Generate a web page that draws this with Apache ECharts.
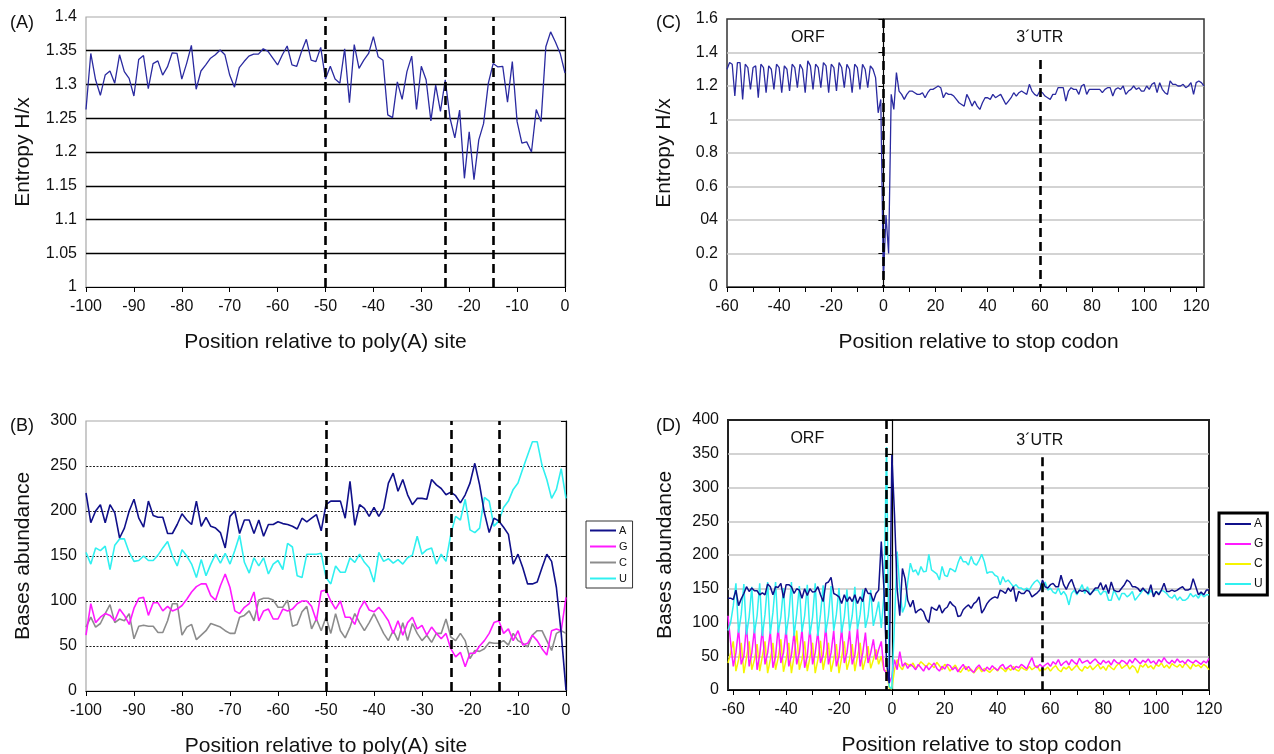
<!DOCTYPE html>
<html><head><meta charset="utf-8">
<script src="https://cdn.jsdelivr.net/npm/echarts@6/dist/echarts.min.js"></script>
<style>html,body{margin:0;padding:0;background:#fff}#c{width:1274px;height:754px}</style>
</head><body><div id="c"></div>
<script>
// ---------- DATA ----------
// Panel A: entropy, positions -100..0
const startA = -100;
const entropyA = [1.263,1.346,1.307,1.284,1.314,1.320,1.302,1.344,1.319,1.309,
1.283,1.337,1.343,1.294,1.331,1.335,1.314,1.326,1.347,1.346,
1.308,1.331,1.358,1.293,1.320,1.329,1.339,1.344,1.351,1.344,
1.314,1.296,1.325,1.334,1.342,1.345,1.345,1.353,1.349,1.339,
1.329,1.344,1.357,1.329,1.327,1.349,1.367,1.336,1.334,1.355,
1.308,
1.327,1.308,1.302,1.353,1.273,1.359,1.324,1.336,1.346,1.371,
1.341,1.336,1.255,1.251,1.304,1.278,1.319,1.342,1.263,1.327,
1.307,1.246,1.299,1.260,1.307,1.250,1.221,1.262,1.161,1.230,
1.159,1.218,1.242,1.302,1.331,1.326,1.327,1.274,1.334,1.245,
1.213,1.215,1.200,1.263,1.245,1.356,1.378,1.363,1.346,1.317];

// Panel B: base abundance, positions -100..0
const startB = -100;
const baseA_B = [220,187,200,207,187,207,198,170,181,200,
213,192,182,211,195,193,193,175,175,185,
197,190,185,211,183,193,183,181,176,159,
194,200,175,190,190,175,190,172,185,185,
188,186,185,183,180,192,188,192,196,178,
207,
211,211,211,192,233,184,207,203,194,204,
194,203,231,242,222,235,218,207,214,214,
213,235,229,225,218,221,217,209,218,231,
253,229,198,176,192,189,182,174,141,152,
137,119,119,121,137,152,144,115,64,1];
const baseU_B = [154,141,159,156,161,135,162,169,169,154,
144,145,150,145,145,151,159,166,150,139,
157,150,141,126,146,128,141,152,142,153,
141,156,173,143,131,148,139,148,130,141,
145,135,164,160,128,126,152,152,152,153,
126,
119,139,132,132,148,143,152,143,137,121,
154,144,147,142,146,141,148,151,172,152,
157,159,141,152,144,174,194,190,213,179,
176,181,215,211,183,189,204,211,224,231,
247,262,277,277,251,235,214,224,247,214];
const baseG_B = [62,97,76,82,86,84,78,91,84,74,
92,103,104,84,98,98,89,94,89,91,
95,102,110,116,119,119,106,101,117,130,
115,89,86,93,97,110,78,89,91,80,
80,91,89,91,97,100,100,94,78,111,
112,
100,91,100,82,82,74,91,100,90,88,
93,86,78,64,78,62,76,82,69,73,
62,71,64,58,64,47,38,43,27,42,
42,50,56,64,76,78,64,69,56,67,
51,53,62,56,47,40,67,69,67,104];
const baseC_B = [71,82,71,75,86,96,76,80,78,86,
58,72,73,72,72,65,65,78,97,97,
62,71,74,57,62,67,75,73,71,67,
64,64,82,84,89,78,101,103,103,101,
93,93,101,72,74,88,94,69,80,67,
82,
64,86,67,59,71,86,76,67,76,86,
75,64,56,67,56,76,56,75,64,56,
62,54,64,64,80,60,56,64,56,36,
45,44,47,54,53,53,56,51,64,56,
53,49,62,67,67,56,45,64,67,64];

// Panel C: entropy, positions -60..123
const startC = -60;
const entropyC = [1.30,1.34,1.33,1.14,1.34,1.34,1.12,1.33,1.31,1.18,
1.31,1.32,1.13,1.33,1.31,1.16,1.32,1.30,1.18,1.33,
1.31,1.16,1.32,1.30,1.17,1.33,1.31,1.19,1.33,1.30,
1.16,1.35,1.32,1.18,1.33,1.31,1.19,1.34,1.32,1.16,
1.33,1.31,1.17,1.34,1.31,1.19,1.33,1.30,1.16,1.33,
1.31,1.18,1.33,1.30,1.19,1.32,1.30,1.25,1.04,1.12,
0.05,0.43,0.20,1.15,1.06,1.28,1.17,1.15,1.12,1.15,
1.17,1.17,1.16,1.15,1.15,1.16,1.13,1.16,1.18,1.18,
1.19,1.20,1.19,1.13,1.16,1.15,1.15,1.14,1.12,1.10,
1.09,1.08,1.15,1.12,1.08,1.11,1.08,1.06,1.10,1.13,
1.13,1.12,1.15,1.13,1.14,1.15,1.12,1.09,1.11,1.13,
1.16,1.14,1.16,1.17,1.16,1.15,1.21,1.17,1.15,1.14,
1.17,1.16,1.14,1.13,1.12,1.15,1.15,1.19,1.19,1.19,
1.11,1.17,1.19,1.18,1.18,1.15,1.20,1.21,1.15,1.18,
1.18,1.18,1.18,1.18,1.16,1.18,1.19,1.19,1.14,1.18,
1.19,1.18,1.20,1.15,1.17,1.18,1.20,1.18,1.19,1.17,
1.17,1.20,1.18,1.21,1.22,1.16,1.22,1.18,1.16,1.15,
1.23,1.21,1.21,1.20,1.20,1.21,1.19,1.20,1.22,1.15,
1.22,1.23,1.22,1.20];

// Panel D: base abundance, positions -62..120
const startD = -62;
const baseA_D = [136,136,134,148,125,135,143,153,146,151,
147,147,141,144,141,157,153,141,153,152,
158,136,156,156,153,143,150,148,136,150,
140,150,145,146,153,141,131,158,160,167,
143,141,138,128,141,131,138,131,141,128,
138,131,151,143,143,131,143,148,220,150,
40,10,348,260,150,110,180,165,133,123,
133,114,118,120,116,105,100,123,120,118,
126,114,120,123,131,126,123,109,110,119,
123,126,121,128,131,138,114,120,128,133,
136,138,136,148,146,143,151,146,153,131,
146,143,143,148,146,138,141,144,148,163,
153,151,156,158,153,153,170,156,149,158,
164,153,143,148,146,148,146,141,146,151,
151,159,148,156,143,160,148,146,146,151,
156,163,160,153,153,151,146,151,146,143,
156,138,146,141,148,158,146,146,148,146,
148,151,153,148,148,150,165,153,141,145,
141,148,148];
const baseU_D = [88,100,125,158,85,112,157,82,108,153,
84,110,158,80,112,160,83,115,160,85,
108,151,82,110,160,80,113,154,86,110,
156,82,108,158,80,112,155,85,110,154,
88,112,151,85,108,149,88,110,153,90,
112,149,92,110,148,95,112,131,92,140,
360,5,2,100,205,150,115,125,160,188,
175,178,170,183,175,176,201,178,175,172,
163,183,170,168,180,178,175,188,198,190,
190,185,198,188,185,192,201,190,173,175,
175,170,168,156,168,160,163,158,153,156,
151,151,148,151,148,155,160,163,158,146,
160,148,151,145,143,151,141,146,140,126,
143,148,141,148,156,143,153,141,146,148,
148,141,146,146,133,133,148,141,133,143,
143,138,141,146,133,138,143,148,148,141,
148,141,146,143,148,146,143,138,136,141,
133,138,133,133,136,143,138,141,136,143,
138,141,141];
const baseG_D = [110,70,35,55,91,38,50,97,35,55,
91,30,52,91,38,55,87,33,50,94,
40,55,91,35,52,85,38,55,90,33,
50,93,38,55,87,40,52,95,38,55,
88,35,50,92,40,55,88,38,52,91,
35,55,85,40,55,75,45,60,72,30,
25,10,20,45,30,57,35,40,32,38,
35,30,38,33,28,36,30,35,40,32,
28,35,31,38,36,30,34,27,33,38,
30,35,29,26,33,37,31,28,34,30,
36,32,29,35,38,31,34,37,30,35,
33,38,35,31,40,48,36,33,38,34,
37,40,35,42,38,45,36,40,43,37,
45,41,38,47,40,42,44,39,43,46,
41,38,44,40,43,37,45,41,39,44,
42,38,45,40,47,43,39,44,41,46,
40,43,38,45,41,48,42,39,44,40,
46,41,43,39,45,42,40,44,41,38,
43,40,47];
const baseC_D = [40,55,72,28,45,70,25,48,72,30,
45,68,28,50,72,25,45,70,30,48,
75,27,45,70,25,50,88,30,45,72,
28,48,70,25,45,73,30,50,70,27,
45,68,25,48,72,30,45,68,28,50,
70,30,45,65,32,45,60,38,50,30,
28,3,2,30,45,35,30,40,38,35,
40,32,36,42,38,34,40,37,33,41,
36,30,38,35,28,33,37,30,26,32,
35,28,31,25,30,34,27,32,29,26,
30,33,28,34,31,27,33,29,35,30,
28,34,31,29,35,30,33,36,28,32,
30,34,28,33,36,30,27,34,31,35,
29,33,37,31,28,35,32,36,30,34,
38,31,35,29,37,33,30,36,40,32,
35,38,31,36,33,25,37,34,39,33,
36,31,38,35,40,33,37,32,39,36,
34,38,33,40,36,31,39,35,37,33,
38,35,30];

// dashed separators
const dashA = [-50, -25, -15];
const dashB = [-50, -24, -14];
const dashC = [[0, 1.6], [60, 1.355]];   // [position, top value]
const dashD = [[-2, 400], [57, 345]];
// region labels
const regionC = [['ORF', -29, 1.487], ['3\u00B4UTR', 60, 1.487]];
const regionD = [['ORF', -32, 372], ['3\u00B4UTR', 56, 370]];
// tick labels
const ticksC_x = [-60,-40,-20,0,20,40,60,80,100,120];
const minorC_x = [-60,-50,-40,-30,-20,-10,0,10,20,30,40,50,60,70,80,90,100,110,120];
const yLabelsC = ['0','0.2','04','0.6','0.8','1','1.2','1.4','1.6'];
const legendNames = ['A','G','C','U'];

// ---------- CHART ----------
const FONT = "'Liberation Sans', Arial, Helvetica, sans-serif";
const chart = echarts.init(document.getElementById('c'), null, {renderer:'canvas'});

function ser(name, idx, start, vals, color, width, extra) {
  return Object.assign({
    type:'line', name, xAxisIndex:idx, yAxisIndex:idx,
    data: vals.map((v,i)=>[start+i, v]),
    showSymbol:false, symbol:'none', animation:false, silent:true,
    lineStyle:{color, width}, itemStyle:{color}
  }, extra||{});
}
const dashStyle = {type:[9,5], color:'#000', width:2.6};
function fullDash(list){
  return {symbol:['none','none'], silent:true, animation:false, label:{show:false},
    lineStyle:dashStyle, data:list.map(v=>({xAxis:v}))};
}
function partDash(list){
  return {symbol:['none','none'], silent:true, animation:false, label:{show:false},
    lineStyle:dashStyle, data:list.map(d=>[{coord:[d[0], d[1]]},{coord:[d[0], 0]}])};
}
function regionMarks(list){
  return {symbol:'circle', symbolSize:0, silent:true, animation:false,
    label:{show:true, position:'inside', formatter:p=>p.name, color:'#111', fontSize:16, fontFamily:FONT},
    data:list.map(r=>({name:r[0], coord:[r[1], r[2]]}))};
}

const tickLabelY = {color:'#111', fontSize:16, fontFamily:FONT, margin:9};
const tickLabelX = {color:'#111', fontSize:16, fontFamily:FONT, margin:12};
const nameStyle = {color:'#111', fontSize:21, fontFamily:FONT};
const blackAxis = {lineStyle:{color:'#000', width:1.2}};

const grids = [
  {left:86, top:17, width:479, height:270, show:true, borderColor:'#a8a8a8', borderWidth:1.2, outerBoundsMode:'none', containLabel:false},
  {left:86, top:421, width:480, height:270, show:true, borderColor:'#a8a8a8', borderWidth:1.2, outerBoundsMode:'none', containLabel:false},
  {left:727, top:19, width:477, height:268, show:true, borderColor:'#333', borderWidth:1.5, outerBoundsMode:'none', containLabel:false},
  {left:728, top:420, width:481, height:270, show:true, borderColor:'#222', borderWidth:2, outerBoundsMode:'none', containLabel:false}
];

const xAxes = [
  {gridIndex:0, type:'value', min:-100, max:0, interval:10, axisLine:blackAxis,
   axisTick:{lineStyle:{color:'#000'}, length:5}, axisLabel:tickLabelX, splitLine:{show:false},
   name:'Position relative to poly(A) site', nameLocation:'middle', nameGap:45, nameTextStyle:nameStyle},
  {gridIndex:1, type:'value', min:-100, max:0, interval:10, axisLine:blackAxis,
   axisTick:{lineStyle:{color:'#000'}, length:5}, axisLabel:tickLabelX, splitLine:{show:false},
   name:'Position relative to poly(A) site', nameLocation:'middle', nameGap:45, nameTextStyle:nameStyle},
  {gridIndex:2, type:'value', min:-60, max:123, axisLine:blackAxis,
   axisTick:{lineStyle:{color:'#000'}, length:5, customValues:minorC_x},
   axisLabel:Object.assign({customValues:ticksC_x}, tickLabelX), splitLine:{show:false},
   name:'Position relative to stop codon', nameLocation:'middle', nameGap:45,
   nameTextStyle:Object.assign({padding:[0,0,0,26]}, nameStyle)},
  {gridIndex:3, type:'value', min:-62, max:120, axisLine:blackAxis,
   axisTick:{lineStyle:{color:'#000'}, length:5, customValues:minorC_x},
   axisLabel:Object.assign({customValues:ticksC_x}, tickLabelX), splitLine:{show:false},
   name:'Position relative to stop codon', nameLocation:'middle', nameGap:45,
   nameTextStyle:Object.assign({padding:[0,0,0,26]}, nameStyle)}
];

const yAxes = [
  {gridIndex:0, type:'value', min:1, max:1.4, interval:0.05, axisLine:blackAxis,
   axisTick:{show:true, lineStyle:{color:'#000'}, length:5}, axisLabel:tickLabelY,
   splitLine:{show:true, showMaxLine:false, showMinLine:false, lineStyle:{color:'#000', width:1.3}},
   name:'Entropy H/x', nameLocation:'middle', nameGap:52, nameTextStyle:nameStyle},
  {gridIndex:1, type:'value', min:0, max:300, interval:50, axisLine:blackAxis,
   axisTick:{show:true, lineStyle:{color:'#000'}, length:5}, axisLabel:tickLabelY,
   splitLine:{show:true, showMaxLine:false, showMinLine:false, lineStyle:{color:'#222', width:1, type:[2,1.5]}},
   name:'Bases abundance', nameLocation:'middle', nameGap:52, nameTextStyle:nameStyle},
  {gridIndex:2, type:'value', min:0, max:1.6, interval:0.2, axisLine:blackAxis,
   axisTick:{show:true, lineStyle:{color:'#000'}, length:5},
   axisLabel:Object.assign({formatter:(v)=>yLabelsC[Math.round(v/0.2)]}, tickLabelY),
   splitLine:{show:true, showMaxLine:false, showMinLine:false, lineStyle:{color:'#c4c4c4', width:1.5}},
   name:'Entropy H/x', nameLocation:'middle', nameGap:52, nameTextStyle:nameStyle},
  {gridIndex:3, type:'value', min:0, max:400, interval:50, axisLine:blackAxis,
   axisTick:{show:true, lineStyle:{color:'#000'}, length:5}, axisLabel:tickLabelY,
   splitLine:{show:true, showMaxLine:false, showMinLine:false, lineStyle:{color:'#c4c4c4', width:1.5}},
   name:'Bases abundance', nameLocation:'middle', nameGap:52, nameTextStyle:nameStyle}
];

const NAVY='#10108a', MAG='#ff1aff', GRAY='#8c8c8c', CYAN='#30f0f0', YEL='#f5f500';

const series = [
  ser('entropyA', 0, startA, entropyA, '#2a2aa0', 1.3, {markLine:fullDash(dashA)}),
  ser('C_B', 1, startB, baseC_B, GRAY, 1.6),
  ser('G_B', 1, startB, baseG_B, MAG, 1.6),
  ser('U_B', 1, startB, baseU_B, CYAN, 1.6),
  ser('A_B', 1, startB, baseA_B, NAVY, 1.6, {markLine:fullDash(dashB)}),
  ser('entropyC', 2, startC, entropyC, '#2a2aa0', 1.3, {markLine:partDash(dashC), markPoint:regionMarks(regionC)}),
  ser('C_D', 3, startD, baseC_D, YEL, 1.5),
  ser('G_D', 3, startD, baseG_D, MAG, 1.5),
  ser('U_D', 3, startD, baseU_D, CYAN, 1.5),
  ser('A_D', 3, startD, baseA_D, NAVY, 1.5, {markLine:partDash(dashD), markPoint:regionMarks(regionD)})
];

const legendBase = {orient:'vertical', icon:'rect', itemWidth:26, itemHeight:2,
  formatter:(n)=>n.charAt(0), selectedMode:false, backgroundColor:'#fff'};

chart.setOption({
  backgroundColor:'#fff',
  animation:false,
  title:[
    {text:'(A)', left:5, top:9, textStyle:{fontSize:18, fontWeight:'normal', color:'#111', fontFamily:FONT}},
    {text:'(B)', left:5, top:412, textStyle:{fontSize:18, fontWeight:'normal', color:'#111', fontFamily:FONT}},
    {text:'(C)', left:651, top:9, textStyle:{fontSize:18, fontWeight:'normal', color:'#111', fontFamily:FONT}},
    {text:'(D)', left:651, top:412, textStyle:{fontSize:18, fontWeight:'normal', color:'#111', fontFamily:FONT}}
  ],
  legend:[
    Object.assign({}, legendBase, {data:legendNames.map(n=>n+'_B'), left:586, top:521, itemGap:5,
      textStyle:{fontSize:11, color:'#111', fontFamily:FONT, padding:[0,0,0,-2]}, borderColor:'#333', borderWidth:1, padding:[4,5,4,4]}),
    Object.assign({}, legendBase, {data:legendNames.map(n=>n+'_D'), left:1219, top:513, itemGap:8,
      textStyle:{fontSize:12, color:'#111', fontFamily:FONT, padding:[0,0,0,-2]}, borderColor:'#000', borderWidth:3, padding:[5,4,5,6]})
  ],
  grid:grids, xAxis:xAxes, yAxis:yAxes, series
});
</script></body></html>
